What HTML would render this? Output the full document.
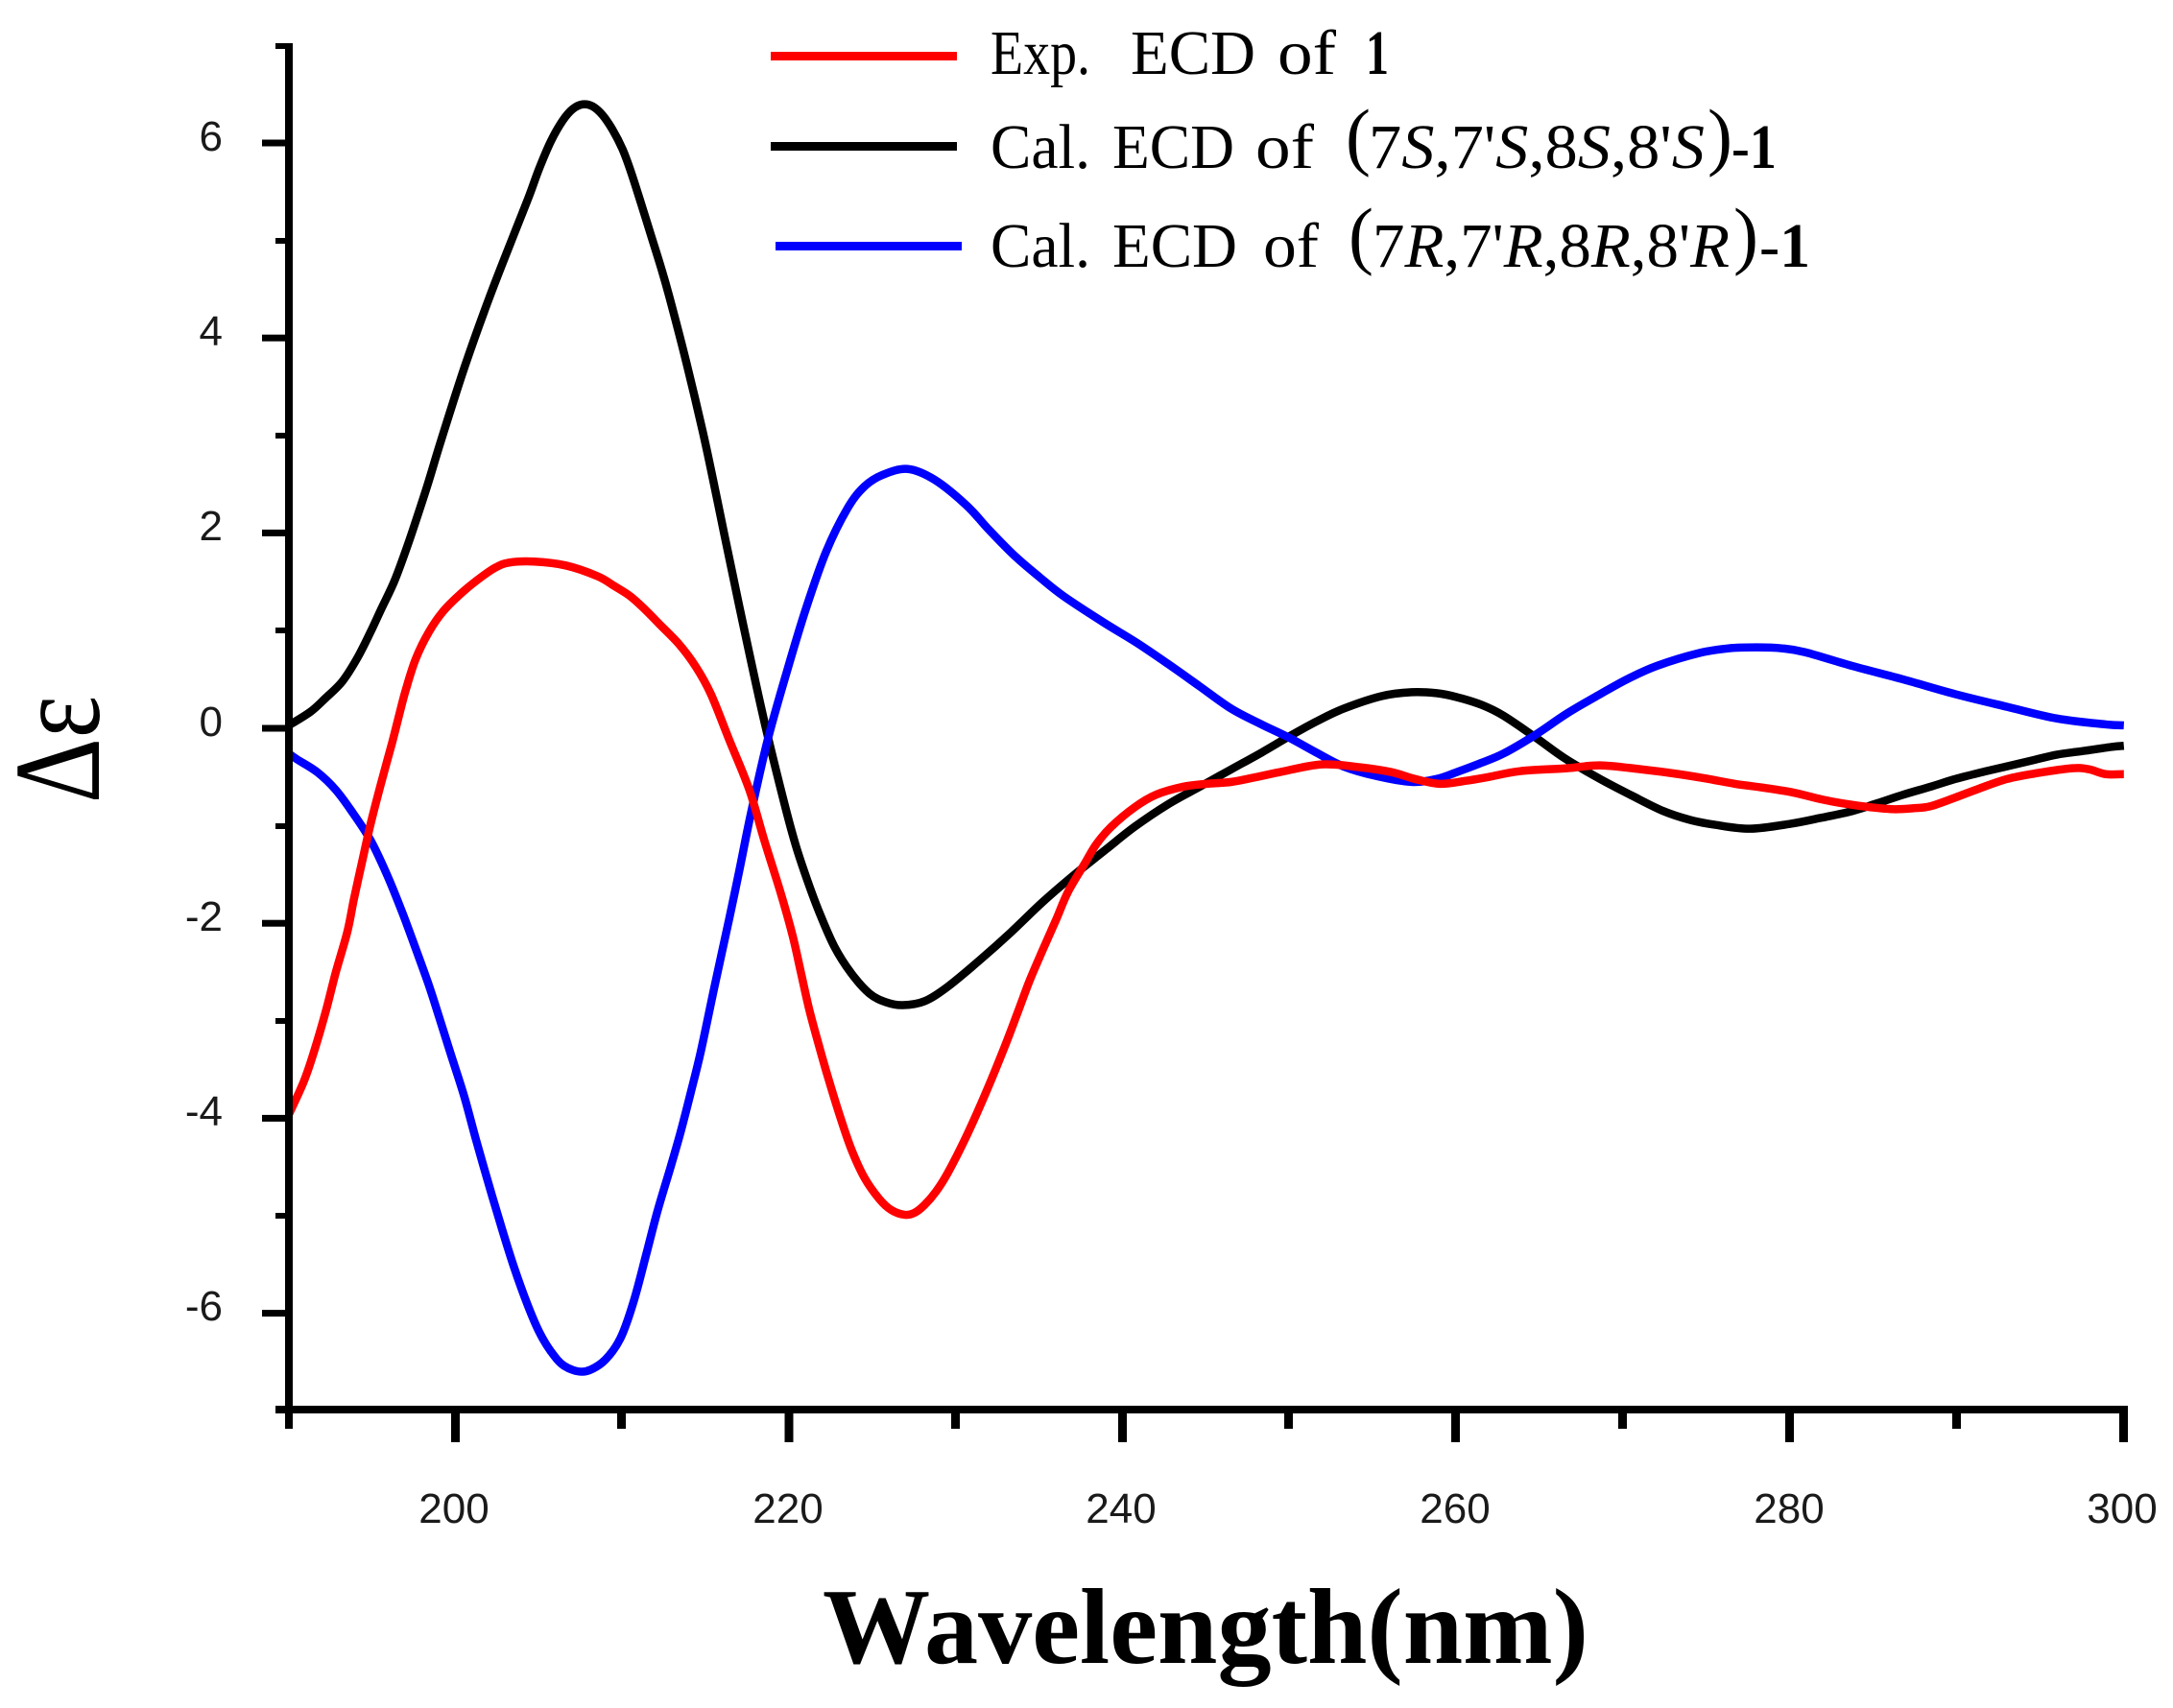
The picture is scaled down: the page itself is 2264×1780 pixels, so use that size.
<!DOCTYPE html>
<html>
<head>
<meta charset="utf-8">
<style>
html,body{margin:0;padding:0;background:#fff;}
svg{display:block;}
</style>
</head>
<body>
<svg id="chart" width="2264" height="1780" viewBox="0 0 2264 1780" xmlns="http://www.w3.org/2000/svg">
<rect x="0" y="0" width="2264" height="1780" fill="#fff"/>

<!-- curves -->
<g id="curves" transform="translate(301,760) scale(17.38,-101.6) translate(-190,0)" fill="none" stroke-linejoin="round" stroke-linecap="butt">
<polyline class="crv" vector-effect="non-scaling-stroke" stroke="#000" stroke-width="8.5" points="
190,0.04 191.3,0.18 192.2,0.32 193.2,0.49 194.1,0.73 194.9,1.0 195.5,1.22 196.3,1.51 197.0,1.83 197.5,2.08
198.3,2.5 199.1,2.95 200.5,3.7 202.0,4.42 203.5,5.08 204.4,5.47 205.0,5.75 205.7,6.03 206.4,6.24 207.0,6.36 207.6,6.41
208.2,6.39 208.8,6.3 209.4,6.15 210.0,5.95 210.5,5.72 211.1,5.4 211.7,5.07 212.3,4.74 212.8,4.44 213.8,3.78 214.8,3.06 215.5,2.5
216.1,2.0 217.2,1.1 218.5,0.08 219.7,-0.76 220.4,-1.2 221.1,-1.56 221.8,-1.88 222.7,-2.23 223.7,-2.5 224.8,-2.71
225.8,-2.8 226.8,-2.83 228.1,-2.79 229.5,-2.64 231.4,-2.37 233.3,-2.08 235.2,-1.77 237.1,-1.49 239.0,-1.23 240.7,-1.0
242.7,-0.77 244.6,-0.59 246.5,-0.41 248.3,-0.24 250.0,-0.07 251.6,0.08 253.2,0.21 255.5,0.34 257.3,0.38 258.8,0.37
260.0,0.33 261.5,0.25 262.8,0.14 264.7,-0.08 266.5,-0.30 268.6,-0.51 270.5,-0.68 272.4,-0.84 274.0,-0.93 275.5,-0.98
277.6,-1.02 280.0,-0.97 281.8,-0.91 283.7,-0.84 285.2,-0.76 286.8,-0.67 288.4,-0.59 289.9,-0.51 291.5,-0.44 293.0,-0.38
294.5,-0.32 296.0,-0.26 297.7,-0.22 299.3,-0.18 300,-0.17"/>
<polyline class="crv" vector-effect="non-scaling-stroke" stroke="#0000ff" stroke-width="8.5" points="
190,-0.25 190.5,-0.31 191.7,-0.44 192.8,-0.62 193.8,-0.85 194.9,-1.14 195.9,-1.5 196.8,-1.88 197.6,-2.25 198.4,-2.63
199.0,-2.95 199.7,-3.33 200.5,-3.76 201.2,-4.2 202.0,-4.68 202.8,-5.14 203.5,-5.52 204.3,-5.9 205.0,-6.18 205.7,-6.38
206.5,-6.53 207.6,-6.59 208.6,-6.52 209.4,-6.38 210.0,-6.2 210.7,-5.85 211.4,-5.4 212.1,-4.94 212.9,-4.48 213.5,-4.12
214.1,-3.72 214.7,-3.3 215.5,-2.65 216.4,-1.94 217.0,-1.45 217.7,-0.86 218.7,-0.11 219.9,0.62 221.0,1.24 222.2,1.82
223.5,2.27 224.5,2.49 225.6,2.61 227.1,2.67 228.7,2.56 230.6,2.3 232.0,2.04 233.5,1.78 235.0,1.56 236.4,1.37
238.8,1.1 240.8,0.89 242.7,0.67 244.6,0.44 246.5,0.21 248.3,0.05 250.0,-0.09 251.6,-0.24 253.2,-0.38 255.2,-0.48
257.3,-0.54 258.8,-0.51 260.0,-0.44 261.4,-0.35 262.8,-0.25 264.7,-0.06 266.6,0.16 268.6,0.36 270.3,0.52 272.0,0.65
274.5,0.78 276.3,0.83 278.0,0.84 279.5,0.83 280.9,0.79 283.7,0.65 286.8,0.51 289.9,0.36 293.0,0.23 296.0,0.11 298.9,0.05 300,0.04"/>
<polyline class="crv" vector-effect="non-scaling-stroke" stroke="#ff0000" stroke-width="8.5" points="
190,-3.95 190.9,-3.61 191.5,-3.31 192.2,-2.9 192.8,-2.5 193.5,-2.08 193.9,-1.74 194.4,-1.35 194.9,-0.97 195.5,-0.57
196.2,-0.13 196.6,0.14 197.0,0.4 197.6,0.72 198.4,1.0 199.3,1.22 200.5,1.42 201.6,1.57 202.4,1.66 203.2,1.71
204.7,1.72 206.6,1.68 208.5,1.57 209.5,1.47 210.5,1.36 211.4,1.22 212.2,1.08 213.4,0.87 214.4,0.64 215.3,0.36
216.4,-0.11 217.6,-0.62 218.5,-1.14 219.5,-1.69 220.2,-2.12 220.7,-2.5 221.2,-2.88 221.8,-3.26 222.3,-3.56 223.0,-3.95
223.7,-4.3 224.5,-4.6 225.4,-4.82 226.1,-4.93 226.9,-4.98 227.5,-4.96 228.1,-4.88 228.8,-4.74 229.5,-4.55 230.6,-4.18
231.8,-3.72 232.9,-3.26 233.7,-2.9 234.4,-2.58 235.2,-2.26 236.0,-1.95 236.7,-1.67 237.7,-1.38 238.4,-1.18 239.3,-1.0
240.7,-0.8 242.0,-0.67 243.6,-0.59 245.0,-0.56 246.5,-0.54 248.0,-0.49 249.4,-0.44 251.9,-0.36 254.2,-0.39 256.1,-0.44
257.5,-0.51 259.0,-0.56 260.5,-0.53 261.9,-0.49 263.8,-0.43 266.6,-0.40 268.6,-0.37 271.0,-0.41 273.3,-0.46 275.1,-0.51
276.7,-0.56 278.4,-0.60 280.2,-0.65 281.9,-0.72 283.5,-0.77 284.8,-0.80 286.2,-0.82 287.4,-0.81 288.4,-0.79 289.9,-0.70
291.3,-0.61 293.0,-0.51 294.8,-0.45 296.9,-0.40 297.9,-0.41 298.9,-0.46 300,-0.46"/>
</g>

<!-- axes -->
<g fill="#000">
  <rect x="297" y="45" width="8" height="1444"/>
  <rect x="287" y="1465" width="1930" height="8"/>
  <rect x="273" y="145.5" width="28" height="7"/>
  <rect x="273" y="348.7" width="28" height="7"/>
  <rect x="273" y="551.9" width="28" height="7"/>
  <rect x="273" y="755.5" width="28" height="7"/>
  <rect x="273" y="958.7" width="28" height="7"/>
  <rect x="273" y="1161.9" width="28" height="7"/>
  <rect x="273" y="1365.1" width="28" height="7"/>
  <rect x="287" y="45" width="14" height="6"/>
  <rect x="287" y="248" width="14" height="6"/>
  <rect x="287" y="451" width="14" height="6"/>
  <rect x="287" y="654" width="14" height="6"/>
  <rect x="287" y="858" width="14" height="6"/>
  <rect x="287" y="1061" width="14" height="6"/>
  <rect x="287" y="1264" width="14" height="6"/>
  <rect x="470" y="1465" width="9" height="38"/>
  <rect x="817.5" y="1465" width="9" height="38"/>
  <rect x="1165" y="1465" width="9" height="38"/>
  <rect x="1512" y="1465" width="9" height="38"/>
  <rect x="1860" y="1465" width="9" height="38"/>
  <rect x="2208" y="1465" width="9" height="38"/>
  <rect x="643" y="1465" width="9" height="24"/>
  <rect x="991" y="1465" width="9" height="24"/>
  <rect x="1338" y="1465" width="9" height="24"/>
  <rect x="1686" y="1465" width="9" height="24"/>
  <rect x="2034" y="1465" width="9" height="24"/>
</g>

<!-- y tick labels -->
<g font-family="'Liberation Sans', sans-serif" font-size="44" fill="#1a1a1a" text-anchor="end">
  <text x="232" y="157">6</text>
  <text x="232" y="360">4</text>
  <text x="232" y="563">2</text>
  <text x="232" y="767">0</text>
  <text x="232" y="970">-2</text>
  <text x="232" y="1173">-4</text>
  <text x="232" y="1376">-6</text>
</g>

<!-- x tick labels -->
<g font-family="'Liberation Sans', sans-serif" font-size="44" fill="#1a1a1a" text-anchor="middle">
  <text x="473" y="1587">200</text>
  <text x="821" y="1587">220</text>
  <text x="1168" y="1587">240</text>
  <text x="1516" y="1587">260</text>
  <text x="1864" y="1587">280</text>
  <text x="2211" y="1587">300</text>
</g>

<!-- axis titles -->
<text x="857" y="1733" font-family="'Liberation Serif', serif" font-weight="bold" font-size="112" textLength="798" lengthAdjust="spacingAndGlyphs" fill="#000">Wavelength(nm)</text>
<text transform="translate(103,781) rotate(-90)" text-anchor="middle" font-family="'Liberation Serif', serif" font-size="128" textLength="112" lengthAdjust="spacingAndGlyphs" fill="#000">Δε</text>

<!-- legend lines -->
<rect x="803" y="54" width="194" height="9" fill="#ff0000"/>
<rect x="803" y="148" width="194" height="9" fill="#000"/>
<rect x="808" y="252" width="194" height="9" fill="#0000ff"/>

<!-- legend text -->
<g font-family="'Liberation Serif', serif" font-size="66" fill="#000">
  <text x="1032" y="77" textLength="104" lengthAdjust="spacingAndGlyphs">Exp.</text>
  <text x="1178" y="77" textLength="130" lengthAdjust="spacingAndGlyphs">ECD</text>
  <text x="1331" y="77" textLength="61" lengthAdjust="spacingAndGlyphs">of</text>
  <text x="1423" y="77" font-weight="bold" textLength="24" lengthAdjust="spacingAndGlyphs">1</text>

  <text x="1032" y="175" textLength="104" lengthAdjust="spacingAndGlyphs">Cal.</text>
  <text x="1159" y="175" textLength="127" lengthAdjust="spacingAndGlyphs">ECD</text>
  <text x="1308" y="175" textLength="61" lengthAdjust="spacingAndGlyphs">of</text>
  <text x="1402" y="168" font-size="78">(</text>
  <text x="1426" y="175" textLength="350" lengthAdjust="spacingAndGlyphs">7<tspan font-style="italic">S</tspan>,7'<tspan font-style="italic">S</tspan>,8<tspan font-style="italic">S</tspan>,8'<tspan font-style="italic">S</tspan></text>
  <text x="1779" y="168" font-size="78">)</text>
  <text x="1804" y="175" textLength="47" lengthAdjust="spacingAndGlyphs">-<tspan font-weight="bold">1</tspan></text>

  <text x="1032" y="278" textLength="104" lengthAdjust="spacingAndGlyphs">Cal.</text>
  <text x="1159" y="278" textLength="130" lengthAdjust="spacingAndGlyphs">ECD</text>
  <text x="1316" y="278" textLength="58" lengthAdjust="spacingAndGlyphs">of</text>
  <text x="1405" y="271" font-size="78">(</text>
  <text x="1430" y="278" textLength="372" lengthAdjust="spacingAndGlyphs">7<tspan font-style="italic">R</tspan>,7'<tspan font-style="italic">R</tspan>,8<tspan font-style="italic">R</tspan>,8'<tspan font-style="italic">R</tspan></text>
  <text x="1806" y="271" font-size="78">)</text>
  <text x="1833" y="278" textLength="53" lengthAdjust="spacingAndGlyphs">-<tspan font-weight="bold">1</tspan></text>
</g>
</svg>
<script>
(function(){
  try{
    var NS="http://www.w3.org/2000/svg";
    var pls=document.querySelectorAll("polyline.crv");
    for(var k=0;k<pls.length;k++){
      var pl=pls[k];
      var raw=pl.getAttribute("points").trim().split(/\s+/);
      var p=[];
      for(var i=0;i<raw.length;i++){var a=raw[i].split(",");p.push([parseFloat(a[0]),parseFloat(a[1])]);}
      var d="M"+p[0][0]+","+p[0][1];
      for(var i=0;i<p.length-1;i++){
        var p0=p[i>0?i-1:0],p1=p[i],p2=p[i+1],p3=p[i+2<p.length?i+2:p.length-1];
        var c1x=p1[0]+(p2[0]-p0[0])/6,c1y=p1[1]+(p2[1]-p0[1])/6;
        var c2x=p2[0]-(p3[0]-p1[0])/6,c2y=p2[1]-(p3[1]-p1[1])/6;
        d+=" C"+c1x.toFixed(4)+","+c1y.toFixed(4)+" "+c2x.toFixed(4)+","+c2y.toFixed(4)+" "+p2[0]+","+p2[1];
      }
      var path=document.createElementNS(NS,"path");
      path.setAttribute("d",d);
      path.setAttribute("fill","none");
      path.setAttribute("stroke",pl.getAttribute("stroke"));
      path.setAttribute("stroke-width",pl.getAttribute("stroke-width"));
      path.setAttribute("vector-effect","non-scaling-stroke");
      path.setAttribute("stroke-linejoin","round");
      pl.parentNode.replaceChild(path,pl);
    }
  }catch(e){}
})();
</script>
</body>
</html>
